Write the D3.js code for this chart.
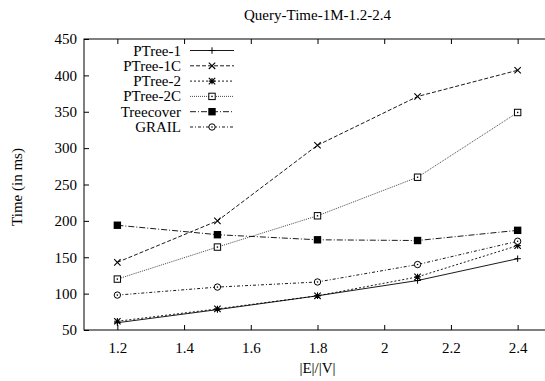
<!DOCTYPE html>
<meta charset="utf-8">
<style>
    body { margin: 0; background: #fff; }
    svg text { font-family: "Liberation Serif", "Times New Roman", serif; font-size: 15px; fill: #000; }
    .axis path, .axis line { stroke: #000; }
</style>
<svg class="chart"></svg>
<script src="https://cdn.jsdelivr.net/npm/d3@7/dist/d3.min.js"></script>
<script>

    var ratios = [1.2, 1.5, 1.8, 2.1, 2.4];
    var ptree1 = [60, 78, 97, 118, 148];
    var ptree1c = [143, 200, 304, 371, 407];
    var ptree2 = [62, 79, 97, 123, 166];
    var ptree2c = [120, 164, 207, 260, 349];
    var treecover = [194, 181, 174, 173, 187];
    var grail = [98, 109, 116, 140, 172];
    var seriesNames = ["PTree-1", "PTree-1C", "PTree-2", "PTree-2C", "Treecover", "GRAIL"];
    var xTicks = [1.2, 1.4, 1.6, 1.8, 2, 2.2, 2.4];
    var yTicks = [50, 100, 150, 200, 250, 300, 350, 400, 450];

    var width = 545, height = 381;
    var plotLeft = 84, plotRight = 551, plotTop = 39, plotBottom = 330;

    var svg = d3.select(".chart").attr("width", width).attr("height", height);

    var x = d3.scaleLinear().domain([1.1, 2.5]).range([plotLeft, plotRight]);
    var y = d3.scaleLinear().domain([50, 450]).range([plotBottom, plotTop]);

    // frame
    svg.append("rect")
        .attr("x", plotLeft).attr("y", plotTop)
        .attr("width", plotRight - plotLeft).attr("height", plotBottom - plotTop)
        .attr("fill", "none").attr("stroke", "#000");

    var fmt = function(d) { return d3.format("")(d); };

    svg.append("g").attr("class", "axis")
        .attr("transform", "translate(0," + plotBottom + ")")
        .call(d3.axisBottom(x).tickValues(xTicks).tickFormat(fmt).tickSize(-5).tickPadding(12))
        .call(function(g) { g.select(".domain").remove(); });

    svg.append("g").attr("class", "axis")
        .attr("transform", "translate(0," + plotTop + ")")
        .call(d3.axisTop(x).tickValues(xTicks).tickFormat("").tickSize(-5))
        .call(function(g) { g.select(".domain").remove(); });

    svg.append("g").attr("class", "axis")
        .attr("transform", "translate(" + plotLeft + ",0)")
        .call(d3.axisLeft(y).tickValues(yTicks).tickSize(-5).tickPadding(7))
        .call(function(g) { g.select(".domain").remove(); });

    // titles
    svg.append("text").attr("x", (plotLeft + plotRight) / 2).attr("y", 20)
        .attr("text-anchor", "middle").text("Query-Time-1M-1.2-2.4");
    svg.append("text").attr("x", (plotLeft + plotRight) / 2).attr("y", 373)
        .attr("text-anchor", "middle").text("|E|/|V|");
    svg.append("text")
        .attr("transform", "translate(22,187) rotate(-90)")
        .attr("text-anchor", "middle").text("Time (in ms)");

    var series = [
        { name: seriesNames[0], values: ptree1, dash: null, color: "#000", marker: "plus" },
        { name: seriesNames[1], values: ptree1c, dash: "4,2", color: "#000", marker: "cross" },
        { name: seriesNames[2], values: ptree2, dash: "2,2", color: "#000", marker: "star" },
        { name: seriesNames[3], values: ptree2c, dash: "1,1", color: "#333", marker: "dotsquare" },
        { name: seriesNames[4], values: treecover, dash: "6,2,1,2", color: "#000", marker: "fillsquare" },
        { name: seriesNames[5], values: grail, dash: "3,2,1,2", color: "#000", marker: "dotcircle" }
    ];

    var line = d3.line()
        .x(function(d) { return x(d[0]); })
        .y(function(d) { return y(d[1]); });

    function drawMarker(g, type, cx, cy) {
        var s = 3.2;
        if (type === "plus") {
            g.append("path").attr("d", "M" + (cx - s) + "," + cy + "H" + (cx + s) + "M" + cx + "," + (cy - s) + "V" + (cy + s))
                .attr("stroke", "#000").attr("fill", "none");
        } else if (type === "cross") {
            g.append("path").attr("d", "M" + (cx - s) + "," + (cy - s) + "L" + (cx + s) + "," + (cy + s) + "M" + (cx - s) + "," + (cy + s) + "L" + (cx + s) + "," + (cy - s))
                .attr("stroke", "#000").attr("fill", "none").attr("stroke-width", 1.1);
        } else if (type === "star") {
            g.append("path").attr("d",
                "M" + (cx - s) + "," + cy + "H" + (cx + s) + "M" + cx + "," + (cy - s) + "V" + (cy + s) +
                "M" + (cx - s) + "," + (cy - s) + "L" + (cx + s) + "," + (cy + s) + "M" + (cx - s) + "," + (cy + s) + "L" + (cx + s) + "," + (cy - s))
                .attr("stroke", "#000").attr("fill", "none").attr("stroke-width", 1.1);
        } else if (type === "dotsquare") {
            g.append("rect").attr("x", cx - s).attr("y", cy - s).attr("width", 2 * s).attr("height", 2 * s)
                .attr("fill", "#fff").attr("stroke", "#000");
            g.append("rect").attr("x", cx - 0.7).attr("y", cy - 0.7).attr("width", 1.4).attr("height", 1.4).attr("fill", "#000");
        } else if (type === "fillsquare") {
            g.append("rect").attr("x", cx - s - 0.5).attr("y", cy - s - 0.5).attr("width", 2 * s + 1).attr("height", 2 * s + 1)
                .attr("fill", "#000");
        } else if (type === "dotcircle") {
            g.append("circle").attr("cx", cx).attr("cy", cy).attr("r", s)
                .attr("fill", "#fff").attr("stroke", "#000");
            g.append("circle").attr("cx", cx).attr("cy", cy).attr("r", 0.8).attr("fill", "#000");
        }
    }

    series.forEach(function(s, i) {
        var pts = ratios.map(function(r, j) { return [r, s.values[j]]; });
        var g = svg.append("g");
        g.append("path").datum(pts)
            .attr("d", line)
            .attr("fill", "none")
            .attr("stroke", s.color)
            .attr("stroke-width", 0.9)
            .attr("stroke-dasharray", s.dash);
        pts.forEach(function(p) { drawMarker(g, s.marker, x(p[0]), y(p[1])); });

        // legend entry
        var ly = 50.5 + i * 15.3;
        g.append("text").attr("x", 181).attr("y", ly + 5).attr("text-anchor", "end").text(s.name);
        g.append("line").attr("x1", 190).attr("x2", 234).attr("y1", ly).attr("y2", ly)
            .attr("stroke", s.color).attr("stroke-width", 0.9).attr("stroke-dasharray", s.dash);
        drawMarker(g, s.marker, 212, ly);
    });

    // force the serif face on every label, including axis ticks
    svg.selectAll("g").attr("font-family", null).attr("font-size", null);
    svg.selectAll("text")
        .style("font-family", "'Liberation Serif', serif")
        .style("font-size", "15px");

</script>
